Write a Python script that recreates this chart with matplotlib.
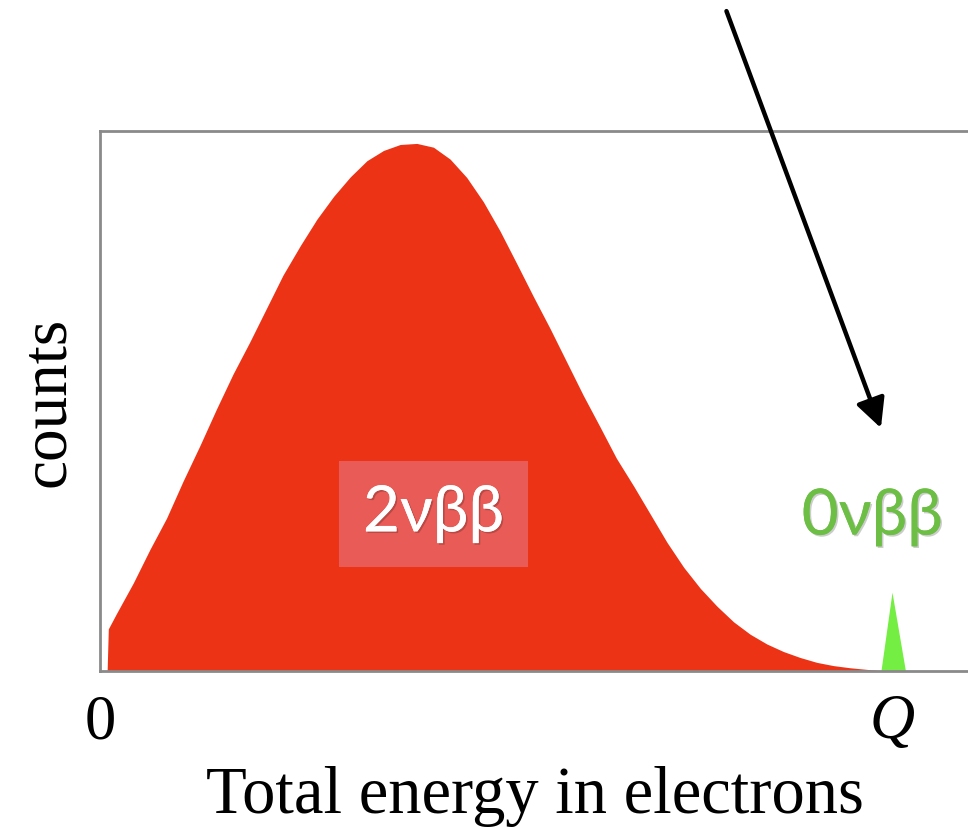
import matplotlib
matplotlib.use("Agg")
import matplotlib.pyplot as plt
import matplotlib.patheffects as pe

# energy (fraction of Q) and counts (fraction of axis height)
energy_2nu = [0.009, 0.0105, 0.021, 0.042, 0.063, 0.084, 0.105, 0.126, 0.147, 0.168,
              0.189, 0.210, 0.231, 0.253, 0.274, 0.295, 0.316, 0.337, 0.358, 0.379,
              0.400, 0.421, 0.442, 0.463, 0.484, 0.505, 0.526, 0.547, 0.568, 0.589,
              0.610, 0.631, 0.652, 0.674, 0.695, 0.716, 0.737, 0.758, 0.779, 0.800,
              0.821, 0.842, 0.863, 0.884, 0.905, 0.926, 0.947, 0.968, 0.985, 0.995]
counts_2nu = [0.0, 0.078, 0.107, 0.163, 0.225, 0.283, 0.352, 0.417, 0.485, 0.550,
              0.609, 0.671, 0.733, 0.788, 0.837, 0.879, 0.915, 0.945, 0.964, 0.975,
              0.977, 0.970, 0.948, 0.914, 0.869, 0.815, 0.755, 0.694, 0.635, 0.573,
              0.511, 0.453, 0.394, 0.342, 0.290, 0.238, 0.192, 0.153, 0.120, 0.091,
              0.068, 0.050, 0.036, 0.025, 0.016, 0.010, 0.006, 0.003, 0.001, 0.0]

energy_0nu = [0.986, 1.0, 1.017]
counts_0nu = [0.0, 0.146, 0.0]

tick_pos = [0, 1]
tick_labels = ["0", "Q"]

serif = ["Liberation Serif", "DejaVu Serif"]
sans = ["Lato", "Open Sans", "DejaVu Sans"]

fig = plt.figure(figsize=(9.68, 8.28), dpi=100)
ax = fig.add_axes([100/968, 1-672/828, 900/968, 540/828])

ax.fill_between(energy_2nu, counts_2nu, color="#EC3316", lw=0)
ax.fill_between(energy_0nu, counts_0nu, color="#74EE42", lw=0)

ax.set_xlim(0, 900/792)
ax.set_ylim(0, 1)

for s in ax.spines.values():
    s.set_color("#8a8a8a")
    s.set_linewidth(2)

ax.set_yticks([])
ax.set_xticks(tick_pos)
ax.set_xticklabels(tick_labels, family=serif, fontsize=45)
ax.get_xticklabels()[1].set_style("italic")
ax.tick_params(axis="x", length=0, pad=16)

ax.set_xlabel("Total energy in electrons", family=serif, fontsize=48, labelpad=10)
ax.xaxis.label.set_x(0.483)
ax.set_ylabel("counts", family=serif, fontsize=47, labelpad=16)

shadow = [pe.withSimplePatchShadow(offset=(1.2, -1.2), shadow_rgbFace="#000000", alpha=0.2), pe.Normal()]

t = ax.text(0.421, 0.291, "2νββ", family=sans, fontsize=46, color="white",
            ha="center", va="center",
            bbox=dict(boxstyle="square,pad=0.38", facecolor="#E95B56", edgecolor="none"))
t.set_path_effects(shadow)

t2 = ax.text(0.975, 0.285, "0νββ", family=sans, fontsize=46, color="#6CBF44",
             ha="center", va="center", clip_on=False)
t2.set_path_effects(shadow)

ax.annotate("", xy=(0.986, 0.450), xytext=(0.791, 1.222),
            arrowprops=dict(arrowstyle="-|>,head_length=1.77,head_width=0.89",
                            color="black", lw=3.2, shrinkA=0, shrinkB=0),
            annotation_clip=False)

fig.savefig("out.png", dpi=100)
